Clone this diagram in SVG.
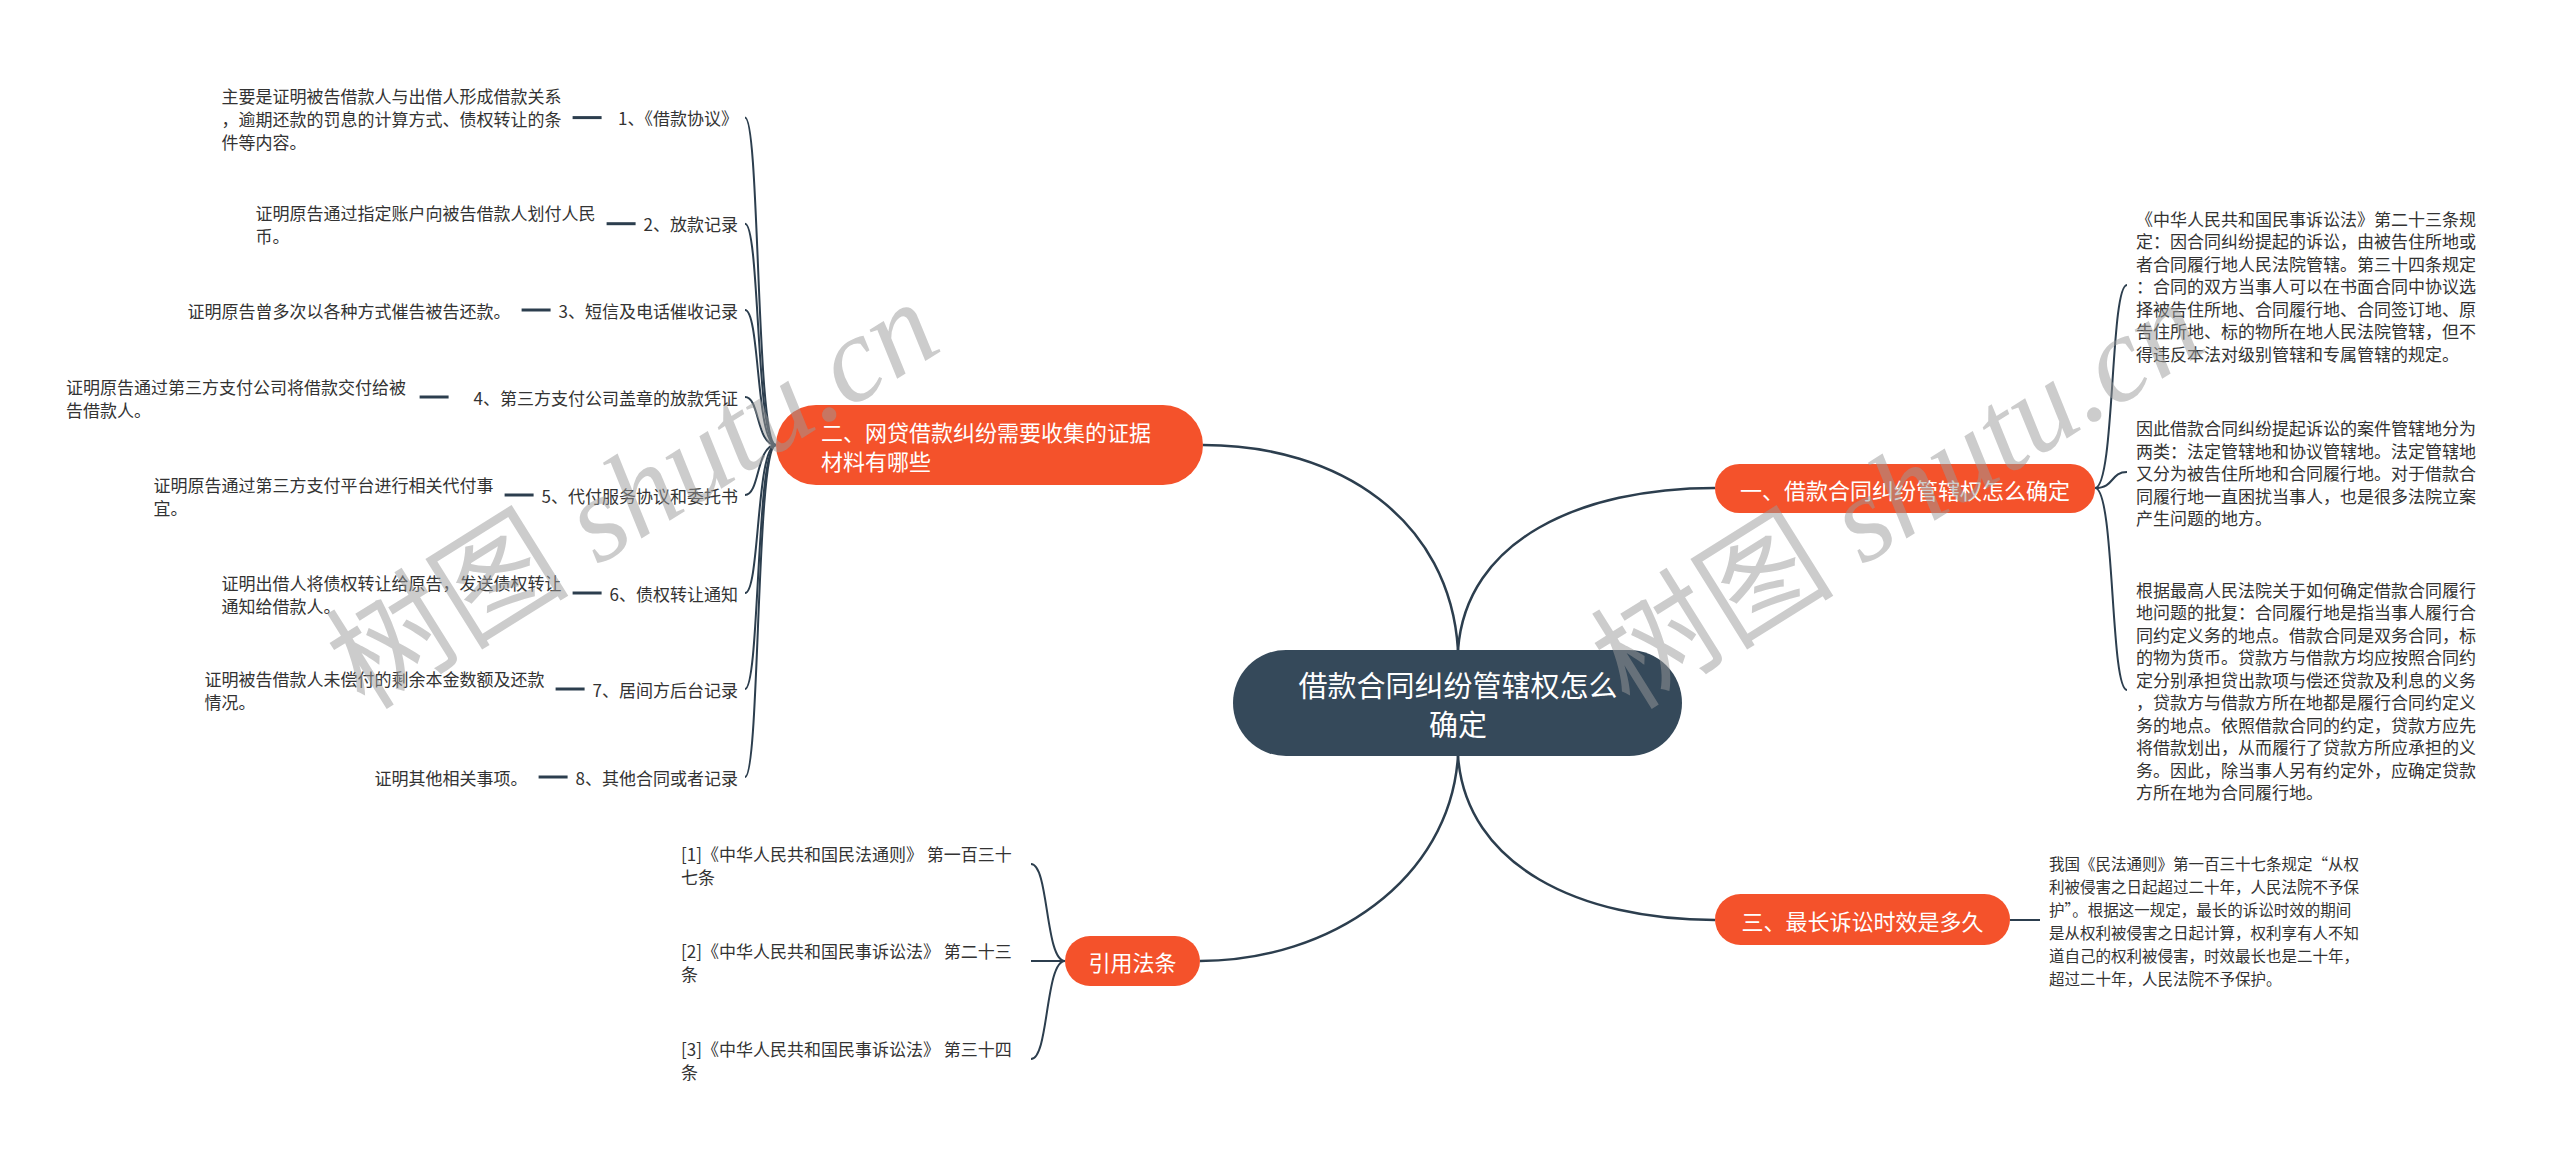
<svg xmlns="http://www.w3.org/2000/svg" width="2560" height="1163" viewBox="0 0 2560 1163">
<style>
text{font-family:"Noto Sans CJK SC","Noto Sans",sans-serif}
.bg{fill:#ffffff}
.main{fill:#35495a}
.sub{fill:#f4522b}
.mt{fill:#ffffff;font-size:29px}
.st{fill:#ffffff;font-size:22px}
.lbl{fill:#333333;font-size:17px}
.desc{fill:#333333;font-size:17px}
.desc2{fill:#333333;font-size:15.5px}
.c1{fill:none;stroke:#2c3e4e;stroke-width:2.5}
.c2{fill:none;stroke:#2c3e4e;stroke-width:2}
.dash{stroke:#2c3e4e;stroke-width:3}
.wm{fill:#9a9a9a;fill-opacity:0.5;font-size:122px;font-family:"Liberation Serif","Noto Sans CJK SC",serif}
</style>
<rect class="bg" x="0" y="0" width="2560" height="1163"/>

<g id="connectors">
  <path class="c1" d="M1458,650 C1450,520 1340,445 1203,445"/>
  <path class="c1" d="M1458,650 C1466,540 1580,488 1715,488"/>
  <path class="c1" d="M1458,756 C1466,866 1580,920 1715,920"/>
  <path class="c1" d="M1458,756 C1450,880 1330,961 1200,961"/>
  <path class="c2" d="M776,445 C756,445 760,117.6 745,117.6"/>
  <path class="c2" d="M776,445 C756,445 760,223.7 745,223.7"/>
  <path class="c2" d="M776,445 C756,445 760,310 745,310"/>
  <path class="c2" d="M776,445 C756,445 760,397 745,397"/>
  <path class="c2" d="M776,445 C756,445 760,495 745,495"/>
  <path class="c2" d="M776,445 C756,445 760,593 745,593"/>
  <path class="c2" d="M776,445 C756,445 760,689 745,689"/>
  <path class="c2" d="M776,445 C756,445 760,777 745,777"/>
  <line class="dash" x1="572.6" y1="117.6" x2="601.6" y2="117.6"/>
  <line class="dash" x1="606.6" y1="223.7" x2="635.6" y2="223.7"/>
  <line class="dash" x1="521.6" y1="310" x2="550.6" y2="310"/>
  <line class="dash" x1="419.6" y1="397" x2="448.6" y2="397"/>
  <line class="dash" x1="504.6" y1="495" x2="533.6" y2="495"/>
  <line class="dash" x1="572.6" y1="593" x2="601.6" y2="593"/>
  <line class="dash" x1="555.6" y1="689" x2="584.6" y2="689"/>
  <line class="dash" x1="538.6" y1="777" x2="567.6" y2="777"/>
  <path class="c2" d="M2095,488 C2115,488 2110,285 2127,285"/>
  <path class="c2" d="M2095,488 C2115,488 2110,472 2127,472"/>
  <path class="c2" d="M2095,488 C2115,488 2110,690 2127,690"/>
  <line class="c2" x1="2010" y1="920" x2="2040" y2="920"/>
  <path class="c2" d="M1065,961 C1045,961 1049,864 1031,864"/>
  <path class="c2" d="M1065,961 L1031,961"/>
  <path class="c2" d="M1065,961 C1045,961 1049,1059 1031,1059"/>
</g>

<g id="node-center">
  <rect class="main" x="1233" y="650" width="449" height="106" rx="53"/>
  <text class="mt" x="1458" y="684" text-anchor="middle" dominant-baseline="central">借款合同纠纷管辖权怎么</text>
  <text class="mt" x="1458" y="723" text-anchor="middle" dominant-baseline="central">确定</text>
</g>

<g id="node-1">
  <rect class="sub" x="1715" y="464" width="380" height="49" rx="24.5"/>
  <text class="st" x="1905" y="488.5" text-anchor="middle" dominant-baseline="central">一、借款合同纠纷管辖权怎么确定</text>
</g>
<g id="node-1-a">
  <text class="desc" x="2136" dominant-baseline="central">
    <tspan x="2136" y="217.5">《中华人民共和国民事诉讼法》第二十三条规</tspan>
    <tspan x="2136" y="240">定：因合同纠纷提起的诉讼，由被告住所地或</tspan>
    <tspan x="2136" y="262.5">者合同履行地人民法院管辖。第三十四条规定</tspan>
    <tspan x="2136" y="285">：合同的双方当事人可以在书面合同中协议选</tspan>
    <tspan x="2136" y="307.5">择被告住所地、合同履行地、合同签订地、原</tspan>
    <tspan x="2136" y="330">告住所地、标的物所在地人民法院管辖，但不</tspan>
    <tspan x="2136" y="352.5">得违反本法对级别管辖和专属管辖的规定。</tspan>
  </text>
</g>
<g id="node-1-b">
  <text class="desc" x="2136" dominant-baseline="central">
    <tspan x="2136" y="427">因此借款合同纠纷提起诉讼的案件管辖地分为</tspan>
    <tspan x="2136" y="449.5">两类：法定管辖地和协议管辖地。法定管辖地</tspan>
    <tspan x="2136" y="472">又分为被告住所地和合同履行地。对于借款合</tspan>
    <tspan x="2136" y="494.5">同履行地一直困扰当事人，也是很多法院立案</tspan>
    <tspan x="2136" y="517">产生问题的地方。</tspan>
  </text>
</g>
<g id="node-1-c">
  <text class="desc" x="2136" dominant-baseline="central">
    <tspan x="2136" y="588.75">根据最高人民法院关于如何确定借款合同履行</tspan>
    <tspan x="2136" y="611.25">地问题的批复：合同履行地是指当事人履行合</tspan>
    <tspan x="2136" y="633.75">同约定义务的地点。借款合同是双务合同，标</tspan>
    <tspan x="2136" y="656.25">的物为货币。贷款方与借款方均应按照合同约</tspan>
    <tspan x="2136" y="678.75">定分别承担贷出款项与偿还贷款及利息的义务</tspan>
    <tspan x="2136" y="701.25">，贷款方与借款方所在地都是履行合同约定义</tspan>
    <tspan x="2136" y="723.75">务的地点。依照借款合同的约定，贷款方应先</tspan>
    <tspan x="2136" y="746.25">将借款划出，从而履行了贷款方所应承担的义</tspan>
    <tspan x="2136" y="768.75">务。因此，除当事人另有约定外，应确定贷款</tspan>
    <tspan x="2136" y="791.25">方所在地为合同履行地。</tspan>
  </text>
</g>

<g id="node-2">
  <rect class="sub" x="776" y="405" width="427" height="80" rx="40"/>
  <text class="st" x="821" y="431" dominant-baseline="central">二、网贷借款纠纷需要收集的证据</text>
  <text class="st" x="821" y="460" dominant-baseline="central">材料有哪些</text>
</g>
<g id="node-2-1">
  <text class="lbl" x="738" y="117.6" text-anchor="end" dominant-baseline="central">1、《借款协议》</text>
  <text class="desc" dominant-baseline="central">
    <tspan x="221.6" y="94.6">主要是证明被告借款人与出借人形成借款关系</tspan>
    <tspan x="221.6" y="117.6">，逾期还款的罚息的计算方式、债权转让的条</tspan>
    <tspan x="221.6" y="140.6">件等内容。</tspan>
  </text>
</g>
<g id="node-2-2">
  <text class="lbl" x="738" y="223.7" text-anchor="end" dominant-baseline="central">2、放款记录</text>
  <text class="desc" dominant-baseline="central">
    <tspan x="255.6" y="212.2">证明原告通过指定账户向被告借款人划付人民</tspan>
    <tspan x="255.6" y="235.2">币。</tspan>
  </text>
</g>
<g id="node-2-3">
  <text class="lbl" x="738" y="310" text-anchor="end" dominant-baseline="central">3、短信及电话催收记录</text>
  <text class="desc" x="187.6" y="310" dominant-baseline="central">证明原告曾多次以各种方式催告被告还款。</text>
</g>
<g id="node-2-4">
  <text class="lbl" x="738" y="397" text-anchor="end" dominant-baseline="central">4、第三方支付公司盖章的放款凭证</text>
  <text class="desc" dominant-baseline="central">
    <tspan x="66" y="385.5">证明原告通过第三方支付公司将借款交付给被</tspan>
    <tspan x="66" y="408.5">告借款人。</tspan>
  </text>
</g>
<g id="node-2-5">
  <text class="lbl" x="738" y="495" text-anchor="end" dominant-baseline="central">5、代付服务协议和委托书</text>
  <text class="desc" dominant-baseline="central">
    <tspan x="153.6" y="483.5">证明原告通过第三方支付平台进行相关代付事</tspan>
    <tspan x="153.6" y="506.5">宜。</tspan>
  </text>
</g>
<g id="node-2-6">
  <text class="lbl" x="738" y="593" text-anchor="end" dominant-baseline="central">6、债权转让通知</text>
  <text class="desc" dominant-baseline="central">
    <tspan x="221.6" y="581.5">证明出借人将债权转让给原告，发送债权转让</tspan>
    <tspan x="221.6" y="604.5">通知给借款人。</tspan>
  </text>
</g>
<g id="node-2-7">
  <text class="lbl" x="738" y="689" text-anchor="end" dominant-baseline="central">7、居间方后台记录</text>
  <text class="desc" dominant-baseline="central">
    <tspan x="204.6" y="677.5">证明被告借款人未偿付的剩余本金数额及还款</tspan>
    <tspan x="204.6" y="700.5">情况。</tspan>
  </text>
</g>
<g id="node-2-8">
  <text class="lbl" x="738" y="777" text-anchor="end" dominant-baseline="central">8、其他合同或者记录</text>
  <text class="desc" x="374.6" y="777" dominant-baseline="central">证明其他相关事项。</text>
</g>

<g id="node-3">
  <rect class="sub" x="1715" y="894" width="295" height="51" rx="25.5"/>
  <text class="st" x="1862.5" y="920" text-anchor="middle" dominant-baseline="central">三、最长诉讼时效是多久</text>
</g>
<g id="node-3-a">
  <text class="desc2" dominant-baseline="central">
    <tspan x="2049" y="862.5">我国《民法通则》第一百三十七条规定“从权</tspan>
    <tspan x="2049" y="885.5">利被侵害之日起超过二十年，人民法院不予保</tspan>
    <tspan x="2049" y="908.5">护”。根据这一规定，最长的诉讼时效的期间</tspan>
    <tspan x="2049" y="931.5">是从权利被侵害之日起计算，权利享有人不知</tspan>
    <tspan x="2049" y="954.5">道自己的权利被侵害，时效最长也是二十年，</tspan>
    <tspan x="2049" y="977.5">超过二十年，人民法院不予保护。</tspan>
  </text>
</g>

<g id="node-4">
  <rect class="sub" x="1065" y="936" width="135" height="50" rx="25"/>
  <text class="st" x="1132.5" y="961" text-anchor="middle" dominant-baseline="central">引用法条</text>
</g>
<g id="node-4-1">
  <text class="desc" dominant-baseline="central">
    <tspan x="681" y="852.5">[1]《中华人民共和国民法通则》 第一百三十</tspan>
    <tspan x="681" y="875.5">七条</tspan>
  </text>
</g>
<g id="node-4-2">
  <text class="desc" dominant-baseline="central">
    <tspan x="681" y="949.5">[2]《中华人民共和国民事诉讼法》 第二十三</tspan>
    <tspan x="681" y="972.5">条</tspan>
  </text>
</g>
<g id="node-4-3">
  <text class="desc" dominant-baseline="central">
    <tspan x="681" y="1047.5">[3]《中华人民共和国民事诉讼法》 第三十四</tspan>
    <tspan x="681" y="1070.5">条</tspan>
  </text>
</g>

<g id="watermarks">
  <text class="wm" transform="translate(655,530) rotate(-32)" text-anchor="middle">树图 <tspan font-style="italic">shutu.cn</tspan></text>
  <text class="wm" transform="translate(1920,530) rotate(-32)" text-anchor="middle">树图 <tspan font-style="italic">shutu.cn</tspan></text>
</g>
</svg>
